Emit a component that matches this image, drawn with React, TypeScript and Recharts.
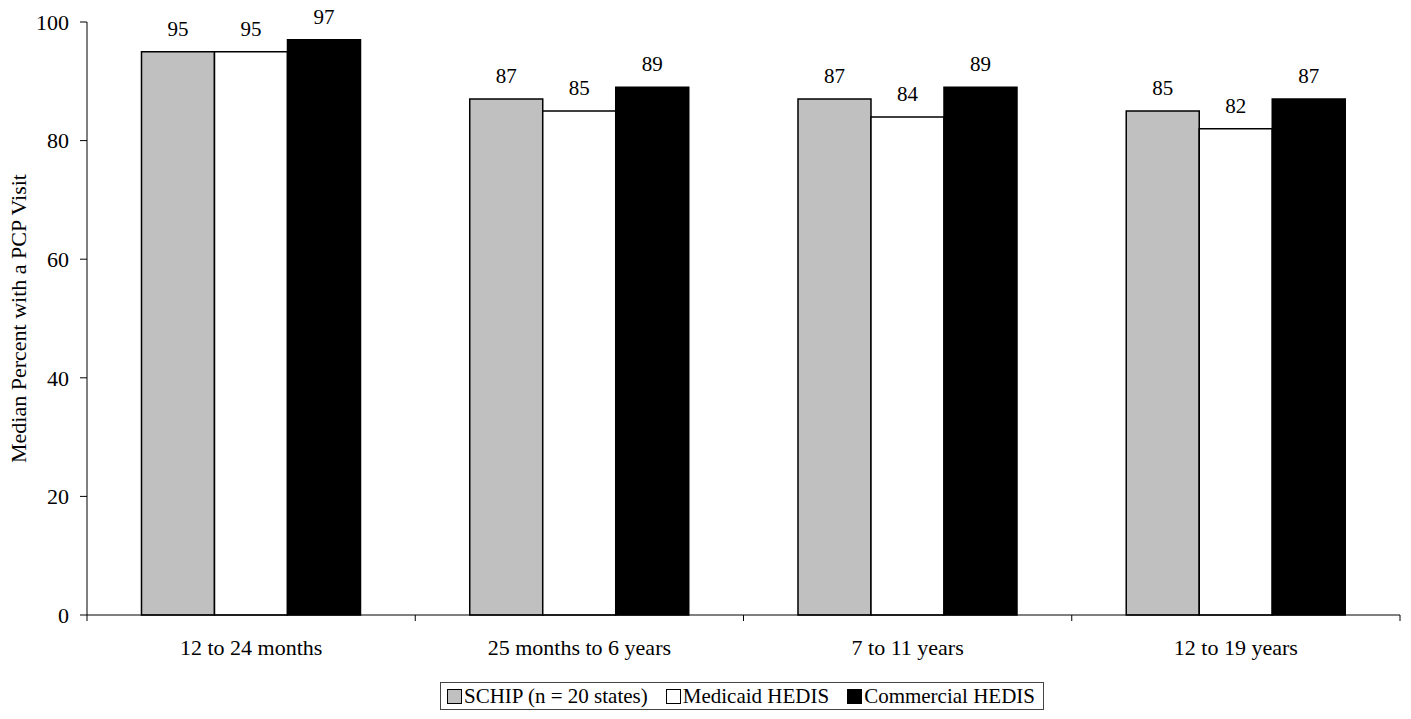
import React from 'react';
import { BarChart, Bar, XAxis, YAxis, Legend, LabelList } from 'recharts';

const categories = ['12 to 24 months', '25 months to 6 years', '7 to 11 years', '12 to 19 years'];
const schip = [95, 87, 87, 85];
const medicaid = [95, 85, 84, 82];
const commercial = [97, 89, 89, 87];
const yTicks = [0, 20, 40, 60, 80, 100];

const series = [
  { key: 'schip', name: 'SCHIP (n = 20 states)', fill: '#c0c0c0' },
  { key: 'medicaid', name: 'Medicaid HEDIS', fill: '#ffffff' },
  { key: 'commercial', name: 'Commercial HEDIS', fill: '#000000' },
];

const data = categories.map((name, i) => ({
  name,
  schip: schip[i],
  medicaid: medicaid[i],
  commercial: commercial[i],
}));

const FONT = '"Liberation Serif", "Times New Roman", serif';
const TICK_MARGIN = 24;

function LegendBox() {
  return (
    <div
      style={{
        border: '1px solid #444',
        padding: '1px 8px 1px 6px',
        display: 'inline-flex',
        alignItems: 'center',
        fontFamily: FONT,
        fontSize: 21,
        lineHeight: '24px',
        color: '#000',
        background: '#fff',
        whiteSpace: 'nowrap',
      }}
    >
      {series.map((s, i) => (
        <span
          key={s.key}
          style={{ display: 'flex', alignItems: 'center', marginLeft: i === 0 ? 0 : 18 }}
        >
          <span
            style={{
              width: 13,
              height: 13,
              background: s.fill,
              border: '1px solid #000',
              marginRight: 2,
              display: 'inline-block',
            }}
          />
          {s.name}
        </span>
      ))}
    </div>
  );
}

// category label plus boundary tick marks between groups
function CategoryTick(props: any) {
  const { x, y, payload, index } = props;
  const half = payload.offset || 0;
  const axisY = y - TICK_MARGIN;
  return (
    <g>
      <line x1={x - half} x2={x - half} y1={axisY} y2={axisY + 6} stroke="#000" />
      {index === categories.length - 1 && (
        <line x1={x + half} x2={x + half} y1={axisY} y2={axisY + 6} stroke="#000" />
      )}
      <text
        x={x}
        y={y}
        dy="0.71em"
        textAnchor="middle"
        fill="#000"
        fontSize={22}
        fontFamily={FONT}
      >
        {payload.value}
      </text>
    </g>
  );
}

export default function App() {
  return (
    <div style={{ position: 'absolute', left: 0, top: 0, background: '#fff' }}>
      <BarChart
        width={1411}
        height={719}
        data={data}
        margin={{ top: 22, right: 11, left: 0, bottom: 0 }}
        barGap={0}
        barCategoryGap="16.6%"
      >
        <XAxis
          dataKey="name"
          stroke="#000"
          tickLine={false}
          tickSize={0}
          tickMargin={TICK_MARGIN}
          height={104}
          interval={0}
          tick={<CategoryTick />}
        />
        <YAxis
          width={87}
          domain={[0, 100]}
          ticks={yTicks}
          stroke="#000"
          tickSize={7}
          tickMargin={11}
          tick={{ fill: '#000', fontSize: 22, fontFamily: FONT }}
          label={{
            value: 'Median Percent with a PCP Visit',
            angle: -90,
            position: 'insideLeft',
            offset: 18,
            style: { textAnchor: 'middle', fill: '#000', fontSize: 22, fontFamily: FONT },
          }}
        />
        <Legend
          verticalAlign="middle"
          content={() => <LegendBox />}
          wrapperStyle={{ left: 440, top: 682, width: 'auto', bottom: 'auto' }}
        />
        {series.map((s) => (
          <Bar
            key={s.key}
            dataKey={s.key}
            name={s.name}
            fill={s.fill}
            stroke="#000"
            strokeWidth={1.5}
            isAnimationActive={false}
          >
            <LabelList
              dataKey={s.key}
              position="top"
              offset={16}
              style={{ fill: '#000', fontSize: 21, fontFamily: FONT }}
            />
          </Bar>
        ))}
      </BarChart>
    </div>
  );
}
